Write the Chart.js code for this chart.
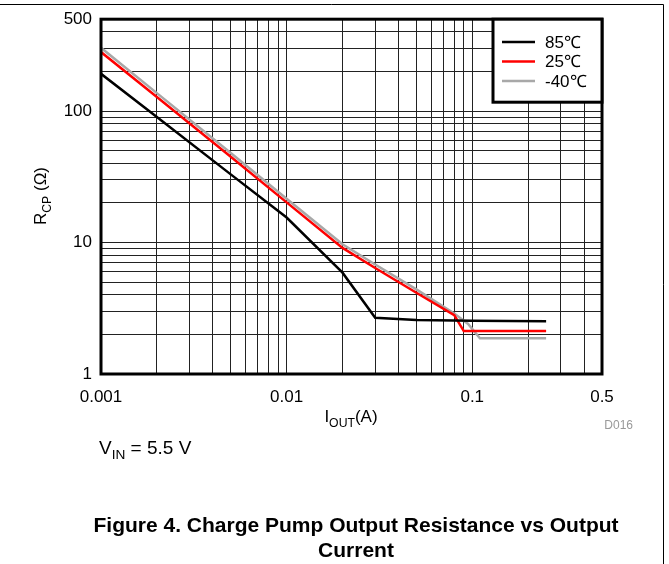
<!DOCTYPE html>
<html>
<head>
<meta charset="utf-8">
<script src="https://cdn.jsdelivr.net/npm/chart.js@4.4.1/dist/chart.umd.min.js"></script>
<style>
  html, body { margin: 0; padding: 0; background: #fff; }
  #grafico { display: block; }
</style>
</head>
<body>
<canvas id="grafico" width="669" height="564"></canvas>
<script>
// datos
const iout85 = [0.001, 0.002, 0.005, 0.01, 0.02, 0.03, 0.05, 0.1, 0.25];
const rcp85 = [192, 90, 33, 15.5, 5.9, 2.68, 2.58, 2.54, 2.52];

const iout25 = [0.001, 0.002, 0.005, 0.01, 0.02, 0.03, 0.05, 0.08, 0.09, 0.25];
const rcp25 = [281, 128, 45, 20.2, 9.1, 6.4, 4.15, 2.8, 2.12, 2.12];

const ioutM40 = [0.001, 0.002, 0.005, 0.01, 0.02, 0.03, 0.05, 0.08, 0.095, 0.11, 0.25];
const rcpM40 = [303, 137, 48, 21.5, 9.7, 6.8, 4.4, 2.88, 2.4, 1.87, 1.87];

const etiquetas = ["85℃", "25℃", "-40℃"];
const xTickLabels = [0.001, 0.01, 0.1, 0.5];
const yTickLabels = [1, 10, 100, 500];

const FUENTE = "'Liberation Sans', Arial, sans-serif";

function puntos(xs, ys) {
  return xs.map((x, i) => ({ x: x, y: ys[i] }));
}

// lineas de rejilla: 1..9 de cada decada hasta el maximo
function rejilla(min, max) {
  const vals = [];
  for (let d = min; d <= max; d *= 10) {
    for (let k = 1; k <= 9; k++) {
      const v = +(k * d).toPrecision(3);
      if (v <= max + 1e-12) vals.push(v);
    }
  }
  return vals;
}

function conSubindice(ctx, partes, x, y, align) {
  // partes: [texto, esSub]
  const tamNormal = ctx._tam;
  let ancho = 0;
  partes.forEach(p => {
    ctx.font = (p[1] ? tamNormal * 0.72 : tamNormal) + "px " + FUENTE;
    ancho += ctx.measureText(p[0]).width;
  });
  let cx = align === "center" ? x - ancho / 2 : x;
  ctx.textAlign = "left";
  ctx.textBaseline = "alphabetic";
  partes.forEach(p => {
    ctx.font = (p[1] ? tamNormal * 0.72 : tamNormal) + "px " + FUENTE;
    ctx.fillText(p[0], cx, p[1] ? y + tamNormal * 0.28 : y);
    cx += ctx.measureText(p[0]).width;
  });
}

const marco = {
  id: "marco",
  afterDatasetsDraw(chart) {
    const ctx = chart.ctx;
    const a = chart.chartArea;
    ctx.save();
    ctx.strokeStyle = "#000";
    ctx.lineWidth = 3;
    ctx.strokeRect(a.left, a.top, a.right - a.left, a.bottom - a.top);

    // leyenda dentro del area
    const bx = 493, by = a.top, bw = a.right - 493, bh = 83;
    ctx.fillStyle = "#fff";
    ctx.fillRect(bx, by, bw, bh);
    ctx.strokeRect(bx, by, bw, bh);
    chart.data.datasets.forEach((ds, i) => {
      const ly = 42 + i * 19.5;
      ctx.strokeStyle = ds.borderColor;
      ctx.lineWidth = 2.5;
      ctx.beginPath();
      ctx.moveTo(502, ly);
      ctx.lineTo(535, ly);
      ctx.stroke();
      ctx.fillStyle = "#000";
      ctx.font = "17px " + FUENTE;
      ctx.textAlign = "left";
      ctx.textBaseline = "middle";
      ctx.fillText(ds.label, 545, ly + 1);
    });
    ctx.restore();
  },
  afterDraw(chart) {
    const ctx = chart.ctx;
    ctx.save();
    ctx.fillStyle = "#000";

    // titulo eje x
    ctx._tam = 17;
    conSubindice(ctx, [["I", false], ["OUT", true], ["(A)", false]], 351, 422, "center");

    // titulo eje y (girado)
    ctx.save();
    ctx.translate(46, 196);
    ctx.rotate(-Math.PI / 2);
    conSubindice(ctx, [["R", false], ["CP", true], [" (Ω)", false]], 0, 0, "center");
    ctx.restore();

    // codigo
    ctx.fillStyle = "#999";
    ctx.font = "12px " + FUENTE;
    ctx.textAlign = "right";
    ctx.textBaseline = "middle";
    ctx.fillText("D016", 633, 426);

    // condicion
    ctx.fillStyle = "#000";
    ctx._tam = 19;
    conSubindice(ctx, [["V", false], ["IN", true], [" = 5.5 V", false]], 99, 454, "left");

    // titulo de figura
    ctx.font = "bold 21px " + FUENTE;
    ctx.textAlign = "center";
    ctx.textBaseline = "alphabetic";
    ctx.fillText("Figure 4. Charge Pump Output Resistance vs Output", 356, 532);
    ctx.fillText("Current", 356, 557);

    // borde de la figura
    ctx.strokeStyle = "#000";
    ctx.lineWidth = 1;
    ctx.beginPath();
    ctx.moveTo(0, 4.5);
    ctx.lineTo(663.5, 4.5);
    ctx.lineTo(663.5, 564);
    ctx.stroke();
    ctx.restore();
  }
};

const ctxGrafico = document.getElementById("grafico").getContext("2d");

new Chart(ctxGrafico, {
  type: "line",
  data: {
    datasets: [
      { label: etiquetas[0], data: puntos(iout85, rcp85), borderColor: "#000000", borderWidth: 2.5 },
      { label: etiquetas[1], data: puntos(iout25, rcp25), borderColor: "#ff0000", borderWidth: 2.5 },
      { label: etiquetas[2], data: puntos(ioutM40, rcpM40), borderColor: "#a8a8a8", borderWidth: 2.5 }
    ]
  },
  options: {
    responsive: false,
    animation: false,
    devicePixelRatio: 1,
    elements: { point: { radius: 0 }, line: { tension: 0 } },
    layout: { padding: { left: 0, top: 18, right: 67, bottom: 150 } },
    plugins: { legend: { display: false }, tooltip: { enabled: false } },
    scales: {
      x: {
        type: "logarithmic",
        min: 0.001,
        max: 0.5,
        afterBuildTicks(scale) {
          scale.ticks = rejilla(0.001, 0.5).map(v => ({ value: v }));
        },
        afterFit(scale) { scale.height = 40; },
        grid: { color: "#222", lineWidth: 1, drawTicks: false },
        border: { display: false },
        ticks: {
          autoSkip: false,
          maxRotation: 0,
          padding: 13,
          color: "#000",
          font: { family: FUENTE, size: 17 },
          callback: v => xTickLabels.some(t => Math.abs(t - v) < 1e-9) ? String(v) : ""
        }
      },
      y: {
        type: "logarithmic",
        min: 1,
        max: 500,
        afterBuildTicks(scale) {
          scale.ticks = rejilla(1, 500).map(v => ({ value: v }));
        },
        afterFit(scale) { scale.width = 101; },
        grid: { color: "#222", lineWidth: 1, drawTicks: false },
        border: { display: false },
        ticks: {
          autoSkip: false,
          padding: 9,
          color: "#000",
          font: { family: FUENTE, size: 17 },
          callback: v => yTickLabels.some(t => Math.abs(t - v) < 1e-9) ? String(v) : ""
        }
      }
    }
  },
  plugins: [marco]
});
</script>
</body>
</html>
